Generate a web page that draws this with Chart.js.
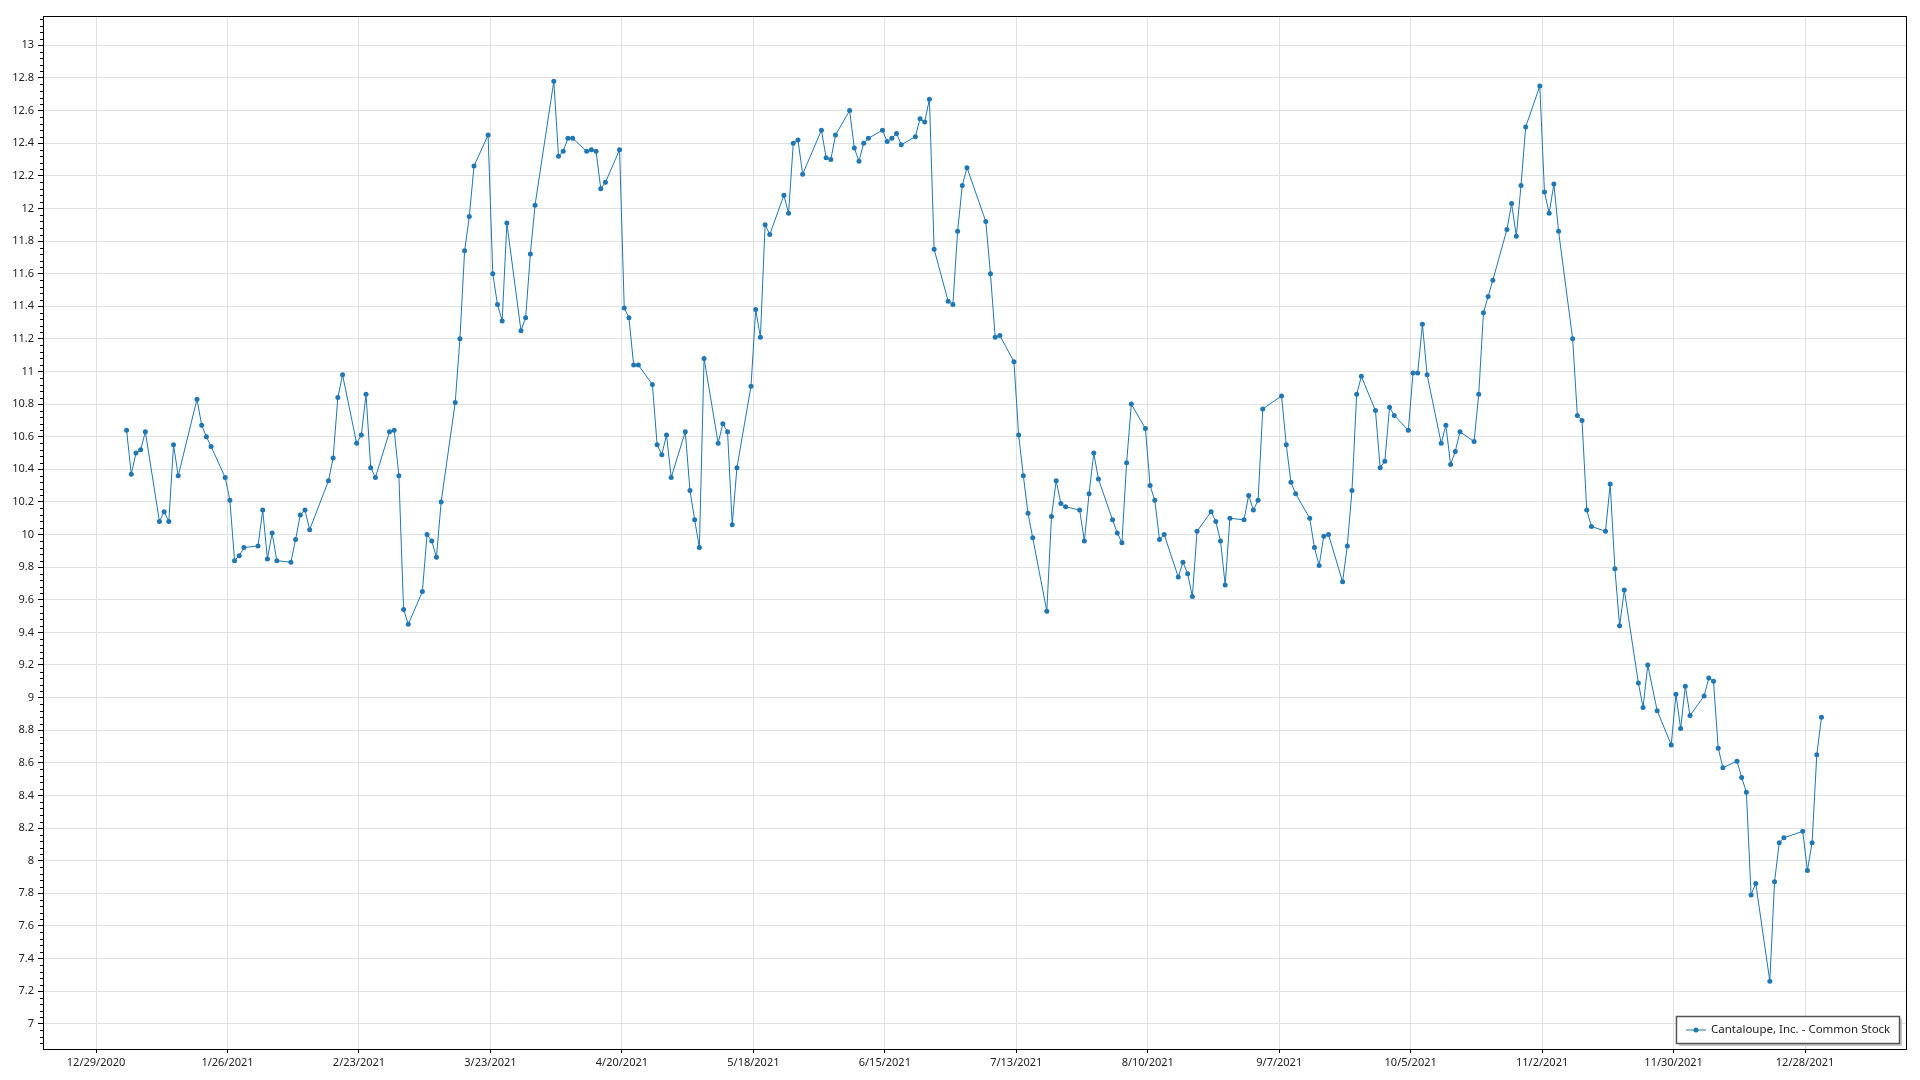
<!DOCTYPE html>
<html>
<head>
<meta charset="utf-8">
<script src="https://cdn.jsdelivr.net/npm/chart.js@4.4.1/dist/chart.umd.min.js"></script>
<style>
  html, body { margin: 0; padding: 0; background: #fff; }
  #wrap { width: 1920px; height: 1080px; position: relative; }
</style>
</head>
<body>
<div id="wrap"><canvas id="cStock" width="1920" height="1080"></canvas></div>
<script>
/* Cantaloupe, Inc. daily close, 2021 */

var seriesName = "Cantaloupe, Inc. - Common Stock";

var dates = [
  "1/4","1/5","1/6","1/7","1/8","1/11","1/12","1/13","1/14","1/15","1/19","1/20","1/21","1/22","1/25","1/26","1/27","1/28","1/29",
  "2/1","2/2","2/3","2/4","2/5","2/8","2/9","2/10","2/11","2/12","2/16","2/17","2/18","2/19","2/22","2/23","2/24","2/25","2/26",
  "3/1","3/2","3/3","3/4","3/5","3/8","3/9","3/10","3/11","3/12","3/15","3/16","3/17","3/18","3/19","3/22","3/23","3/24","3/25","3/26","3/29","3/30","3/31",
  "4/1","4/5","4/6","4/7","4/8","4/9","4/12","4/13","4/14","4/15","4/16","4/19","4/20","4/21","4/22","4/23","4/26","4/27","4/28","4/29","4/30",
  "5/3","5/4","5/5","5/6","5/7","5/10","5/11","5/12","5/13","5/14","5/17","5/18","5/19","5/20","5/21","5/24","5/25","5/26","5/27","5/28",
  "6/1","6/2","6/3","6/4","6/7","6/8","6/9","6/10","6/11","6/14","6/15","6/16","6/17","6/18","6/21","6/22","6/23","6/24","6/25","6/28","6/29","6/30",
  "7/1","7/2","7/6","7/7","7/8","7/9","7/12","7/13","7/14","7/15","7/16","7/19","7/20","7/21","7/22","7/23","7/26","7/27","7/28","7/29","7/30",
  "8/2","8/3","8/4","8/5","8/6","8/9","8/10","8/11","8/12","8/13","8/16","8/17","8/18","8/19","8/20","8/23","8/24","8/25","8/26","8/27","8/30","8/31",
  "9/1","9/2","9/3","9/7","9/8","9/9","9/10","9/13","9/14","9/15","9/16","9/17","9/20","9/21","9/22","9/23","9/24","9/27","9/28","9/29","9/30",
  "10/1","10/4","10/5","10/6","10/7","10/8","10/11","10/12","10/13","10/14","10/15","10/18","10/19","10/20","10/21","10/22","10/25","10/26","10/27","10/28","10/29",
  "11/1","11/2","11/3","11/4","11/5","11/8","11/9","11/10","11/11","11/12","11/15","11/16","11/17","11/18","11/19","11/22","11/23","11/24","11/26","11/29","11/30",
  "12/1","12/2","12/3","12/6","12/7","12/8","12/9","12/10","12/13","12/14","12/15","12/16","12/17","12/20","12/21","12/22","12/23","12/27","12/28","12/29","12/30","12/31"
];

var prices = [
  10.64,10.37,10.50,10.52,10.63,10.08,10.14,10.08,10.55,10.36,10.83,10.67,10.60,10.54,10.35,10.21,9.84,9.87,9.92,
  9.93,10.15,9.85,10.01,9.84,9.83,9.97,10.12,10.15,10.03,10.33,10.47,10.84,10.98,10.56,10.61,10.86,10.41,10.35,
  10.63,10.64,10.36,9.54,9.45,9.65,10.00,9.96,9.86,10.20,10.81,11.20,11.74,11.95,12.26,12.45,11.60,11.41,11.31,11.91,11.25,11.33,11.72,
  12.02,12.78,12.32,12.35,12.43,12.43,12.35,12.36,12.35,12.12,12.16,12.36,11.39,11.33,11.04,11.04,10.92,10.55,10.49,10.61,10.35,
  10.63,10.27,10.09,9.92,11.08,10.56,10.68,10.63,10.06,10.41,10.91,11.38,11.21,11.90,11.84,12.08,11.97,12.40,12.42,12.21,
  12.48,12.31,12.30,12.45,12.60,12.37,12.29,12.40,12.43,12.48,12.41,12.43,12.46,12.39,12.44,12.55,12.53,12.67,11.75,11.43,11.41,11.86,
  12.14,12.25,11.92,11.60,11.21,11.22,11.06,10.61,10.36,10.13,9.98,9.53,10.11,10.33,10.19,10.17,10.15,9.96,10.25,10.50,10.34,
  10.09,10.01,9.95,10.44,10.80,10.65,10.30,10.21,9.97,10.00,9.74,9.83,9.76,9.62,10.02,10.14,10.08,9.96,9.69,10.10,10.09,10.24,
  10.15,10.21,10.77,10.85,10.55,10.32,10.25,10.10,9.92,9.81,9.99,10.00,9.71,9.93,10.27,10.86,10.97,10.76,10.41,10.45,10.78,
  10.73,10.64,10.99,10.99,11.29,10.98,10.56,10.67,10.43,10.51,10.63,10.57,10.86,11.36,11.46,11.56,11.87,12.03,11.83,12.14,12.50,
  12.75,12.10,11.97,12.15,11.86,11.20,10.73,10.70,10.15,10.05,10.02,10.31,9.79,9.44,9.66,9.09,8.94,9.20,8.92,8.71,9.02,
  8.81,9.07,8.89,9.01,9.12,9.10,8.69,8.57,8.61,8.51,8.42,7.79,7.86,7.26,7.87,8.11,8.14,8.18,7.94,8.11,8.65,8.88
];

var xTickLabels = ["12/29/2020","1/26/2021","2/23/2021","3/23/2021","4/20/2021","5/18/2021","6/15/2021",
  "7/13/2021","8/10/2021","9/7/2021","10/5/2021","11/2/2021","11/30/2021","12/28/2021"];

var FONT = "'Noto Sans', 'Open Sans', sans-serif";
var ORIGIN = Date.UTC(2020, 11, 29);

// days since 12/29/2020 ; points sit at midday
function dayOf(str, year) {
  var p = str.split("/");
  var y = p.length > 2 ? +p[2] : year;
  return (Date.UTC(y, +p[0] - 1, +p[1]) - ORIGIN) / 86400000;
}

var points = dates.map(function(d, i) { return { x: dayOf(d, 2021) + 0.5, y: prices[i] }; });
var xTickVals = xTickLabels.map(function(l) { return dayOf(l); });

var frame = {
  id: "frame",
  afterDraw: function(ch) {
    var c = ch.ctx, a = ch.chartArea, ys = ch.scales.y;
    c.save();
    // minor ticks on value axis
    c.strokeStyle = "#000";
    c.lineWidth = 1;
    var k0 = Math.ceil(ys.min / 0.04), k1 = Math.floor(ys.max / 0.04);
    c.beginPath();
    for (var k = k0; k <= k1; k++) {
      if (k % 5 === 0) continue;
      var py = Math.round(ys.getPixelForValue(k * 0.04)) + 0.5;
      c.moveTo(a.left - 3, py);
      c.lineTo(a.left, py);
    }
    c.stroke();
    c.strokeRect(Math.round(a.left) + 0.5, Math.round(a.top) + 0.5, Math.round(a.right - a.left), Math.round(a.bottom - a.top));

    // legend box
    var bx = 1676, by = 1016, bw = 223, bh = 27;
    c.fillStyle = "#c8c8c8";
    c.fillRect(bx + 3, by + 3, bw, bh);
    c.fillStyle = "#fff";
    c.fillRect(bx, by, bw, bh);
    c.strokeStyle = "#555";
    c.lineWidth = 1.5;
    c.strokeRect(bx + 0.5, by + 0.5, bw, bh);
    var ly = by + bh / 2 + 0.5;
    c.strokeStyle = "#1f77b4";
    c.lineWidth = 1;
    c.beginPath();
    c.moveTo(bx + 10, ly);
    c.lineTo(bx + 30, ly);
    c.stroke();
    c.fillStyle = "#1f77b4";
    c.beginPath();
    c.arc(bx + 20, ly, 2.5, 0, Math.PI * 2);
    c.fill();
    c.fillStyle = "#222";
    c.font = "11.5px " + FONT;
    c.textBaseline = "middle";
    c.fillText(seriesName, bx + 35, ly);
    c.restore();
  }
};

new Chart(document.getElementById("cStock"), {
  type: "line",
  data: {
    datasets: [{
      label: seriesName,
      data: points,
      borderColor: "#1f77b4",
      borderWidth: 1,
      pointRadius: 2.5,
      pointBackgroundColor: "#1f77b4",
      pointBorderWidth: 0,
      tension: 0
    }]
  },
  options: {
    responsive: false,
    animation: false,
    devicePixelRatio: 1,
    layout: { padding: { top: 16, right: 14, left: 0, bottom: 0 } },
    scales: {
      x: {
        type: "linear",
        min: -11.3,
        max: 385.5,
        afterFit: function(s) { s.height = 31; },
        afterBuildTicks: function(s) {
          s.ticks = xTickVals.map(function(v) { return { value: v }; });
        },
        grid: { color: "#e1e1e1", tickColor: "#000", tickLength: 4 },
        border: { display: true, color: "#000" },
        ticks: {
          color: "#222",
          padding: 3,
          maxRotation: 0,
          autoSkip: false,
          font: { size: 11, family: FONT },
          callback: function(v) {
            var i = xTickVals.indexOf(v);
            return i >= 0 ? xTickLabels[i] : "";
          }
        }
      },
      y: {
        min: 6.845,
        max: 13.18,
        afterFit: function(s) { s.width = 43; },
        grid: { color: "#e1e1e1", tickColor: "#000", tickLength: 5 },
        border: { display: true, color: "#000" },
        ticks: {
          stepSize: 0.2,
          includeBounds: false,
          color: "#222",
          padding: 4,
          font: { size: 11, family: FONT },
          callback: function(v) { return String(Number(v.toFixed(1))); }
        }
      }
    },
    plugins: {
      legend: { display: false },
      tooltip: { enabled: false }
    }
  },
  plugins: [frame]
});
</script>
</body>
</html>
